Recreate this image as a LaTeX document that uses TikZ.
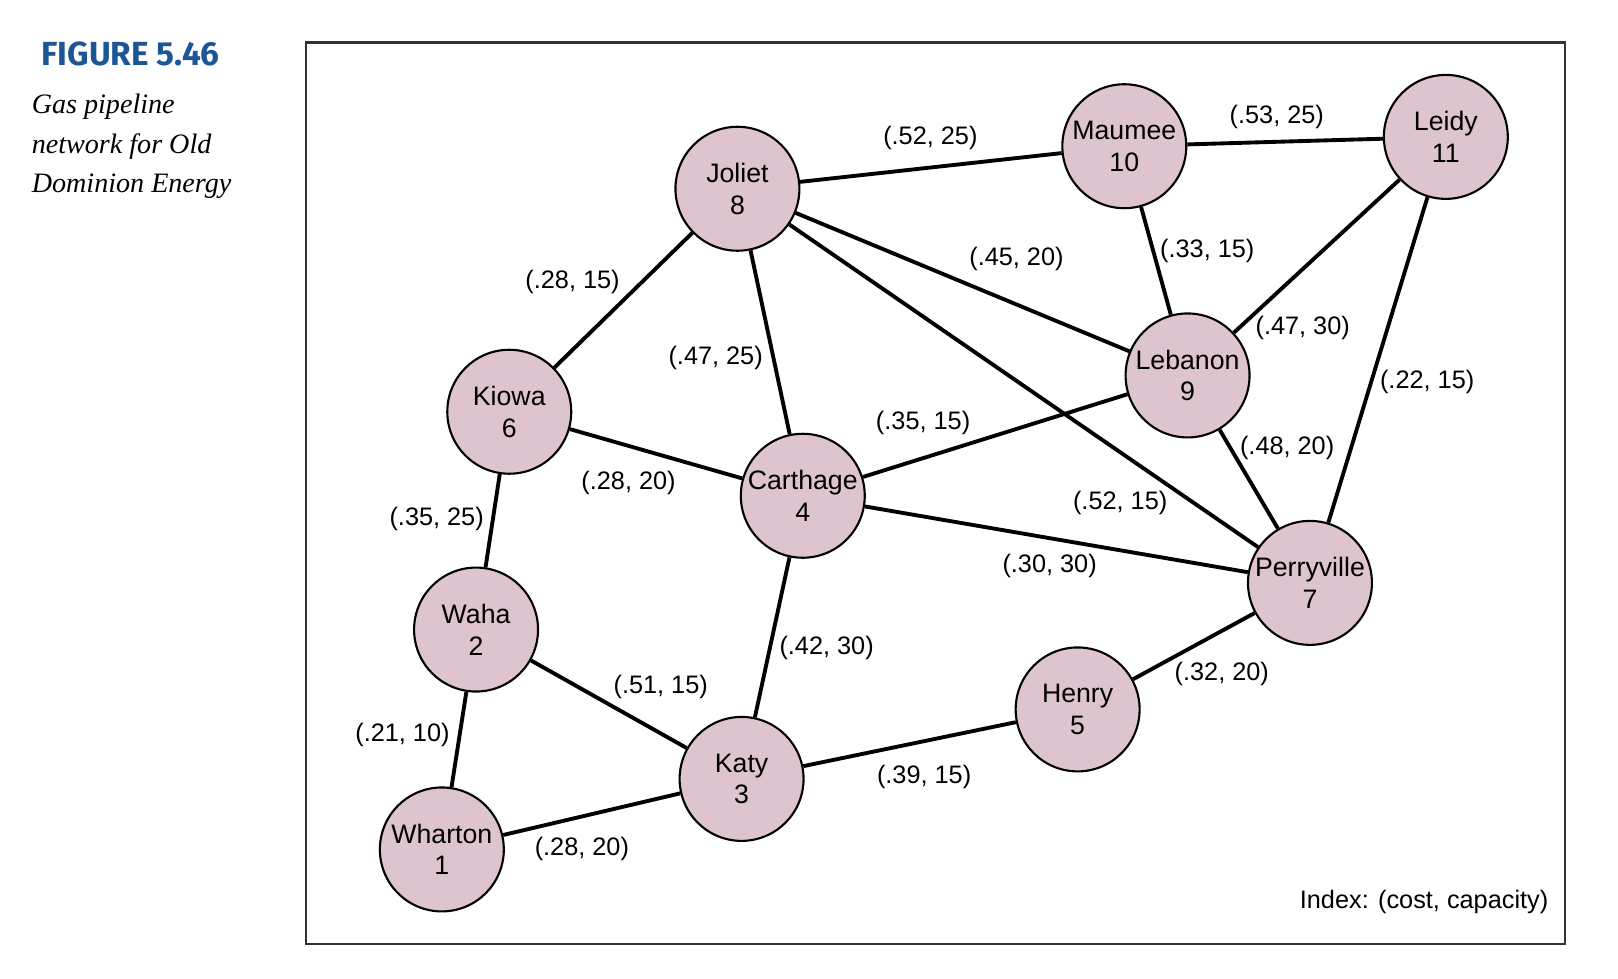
\documentclass[tikz,border=0pt]{standalone}
\usepackage{fontspec}
\setmainfont{Liberation Sans}
\newfontfamily\capfont{Liberation Serif}
\newfontfamily\titlefont{Fira Sans}
\definecolor{nodefill}{RGB}{222,196,206}
\definecolor{titleblue}{RGB}{30,85,150}
\begin{document}
\begin{tikzpicture}[x=0.01037cm,y=-0.01037cm,
  city/.style={circle,draw,line width=0.6pt,fill=nodefill,minimum size=1.24cm,inner sep=0pt,align=center,font=\fontsize{7.6}{9}\selectfont},
  pipe/.style={line width=1.1pt},
  lbl/.style={font=\fontsize{7.2}{9}\selectfont}]
\useasboundingbox (0,0) rectangle (1560,943);
\node[anchor=west,text=titleblue,font=\titlefont\bfseries\fontsize{9.5}{11}\selectfont] (title) at (28,52) {FIGURE 5.46};
\node[anchor=north west,align=left,font=\capfont\itshape\fontsize{8}{11.3}\selectfont,inner sep=0pt] (cap) at (30,90) {Gas pipeline\\network for Old\\Dominion Energy};
\draw[line width=0.6pt,black!80] (295,41) rectangle (1509,910);
\node[city] (jol) at (711,182) {Joliet\\8};
\node[city] (mau) at (1084,141) {Maumee\\10};
\node[city] (lei) at (1394,132) {Leidy\\11};
\node[city] (kio) at (491,397) {Kiowa\\6};
\node[city] (leb) at (1145,362) {Lebanon\\9};
\node[city] (car) at (774,478) {Carthage\\4};
\node[city] (per) at (1263,562) {Perryville\\7};
\node[city] (wah) at (459,607) {Waha\\2};
\node[city] (hen) at (1039,684) {Henry\\5};
\node[city] (kat) at (715,751) {Katy\\3};
\node[city] (wha) at (426,819) {Wharton\\1};
\draw[pipe] (jol)--(mau) (mau)--(lei) (jol)--(leb) (jol)--(per) (jol)--(car) (jol)--(kio)
 (mau)--(leb) (lei)--(leb) (lei)--(per) (leb)--(car) (leb)--(per) (kio)--(car) (car)--(per)
 (kio)--(wah) (wah)--(kat) (car)--(kat) (wah)--(wha) (wha)--(kat) (kat)--(hen) (hen)--(per);
\node[lbl] (l1) at (897,133) {(.52, 25)};
\node[lbl] (l2) at (1231,113) {(.53, 25)};
\node[lbl] (l3) at (980,250) {(.45, 20)};
\node[lbl] (l4) at (1080,485) {(.52, 15)};
\node[lbl] (l5) at (690,345) {(.47, 25)};
\node[lbl] (l6) at (552,272) {(.28, 15)};
\node[lbl] (l7) at (1164,242) {(.33, 15)};
\node[lbl] (l8) at (1256,316) {(.47, 30)};
\node[lbl] (l9) at (1376,368) {(.22, 15)};
\node[lbl] (l10) at (890,408) {(.35, 15)};
\node[lbl] (l11) at (1241,432) {(.48, 20)};
\node[lbl] (l12) at (606,466) {(.28, 20)};
\node[lbl] (l13) at (1012,546) {(.30, 30)};
\node[lbl] (l14) at (421,500) {(.35, 25)};
\node[lbl] (l15) at (637,662) {(.51, 15)};
\node[lbl] (l16) at (797,625) {(.42, 30)};
\node[lbl] (l17) at (388,709) {(.21, 10)};
\node[lbl] (l18) at (561,819) {(.28, 20)};
\node[lbl] (l19) at (891,749) {(.39, 15)};
\node[lbl] (l20) at (1178,650) {(.32, 20)};
\node[lbl] (idx) at (1373,870) {Index: (cost, capacity)};
\end{tikzpicture}
\end{document}
